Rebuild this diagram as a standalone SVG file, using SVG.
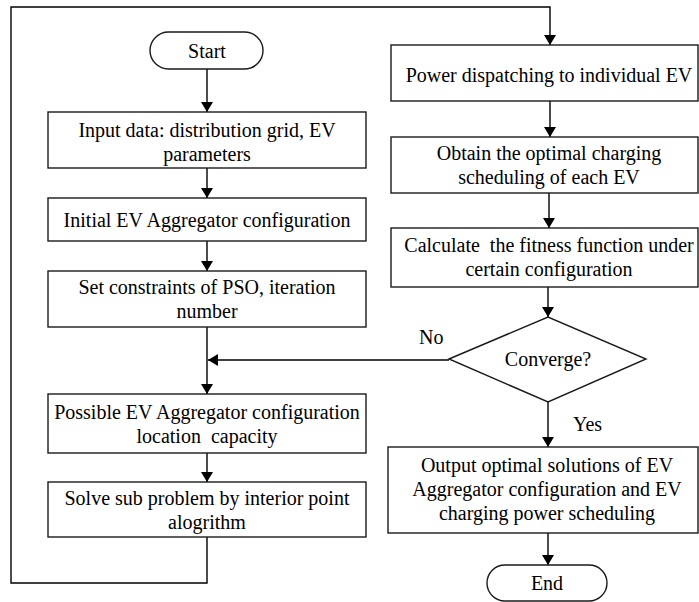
<svg xmlns="http://www.w3.org/2000/svg" width="699" height="602" viewBox="0 0 699 602">
<defs>
<marker id="ah" viewBox="0 0 10 12" refX="10" refY="6" markerWidth="10" markerHeight="12" markerUnits="userSpaceOnUse" orient="auto">
<path d="M0,0 L10,6 L0,12 Z" fill="#000"/>
</marker>
<style>
.b{fill:#fff;stroke:#1a1a1a;stroke-width:1.4}
.t{font-family:"Liberation Serif","Times New Roman",serif;font-size:20px;fill:#000;text-anchor:middle}
.l{font-family:"Liberation Serif","Times New Roman",serif;font-size:20px;fill:#000}
.c{fill:none;stroke:#000;stroke-width:1.4}
</style>
</defs>
<rect width="699" height="602" fill="#fff"/>
<g id="connectors">
<path class="c" d="M207,69 V112" marker-end="url(#ah)"/>
<path class="c" d="M207,168 V198" marker-end="url(#ah)"/>
<path class="c" d="M207,241 V271" marker-end="url(#ah)"/>
<path class="c" d="M207,327 V394" marker-end="url(#ah)"/>
<path class="c" d="M207,453 V482" marker-end="url(#ah)"/>
<path class="c" d="M207,537 V583 H11 V7 H550 V45" marker-end="url(#ah)"/>
<path class="c" d="M550,101 V137" marker-end="url(#ah)"/>
<path class="c" d="M549,193 V228" marker-end="url(#ah)"/>
<path class="c" d="M548,287 V317" marker-end="url(#ah)"/>
<path class="c" d="M449,360 H208" marker-end="url(#ah)"/>
<path class="c" d="M548,402 V447" marker-end="url(#ah)"/>
<path class="c" d="M548,533 V565" marker-end="url(#ah)"/>
</g>
<g id="start">
<rect class="b" x="150" y="32" width="113" height="37" rx="18.5"/>
<text class="t" x="207" y="58">Start</text>
</g>
<g id="input">
<rect class="b" x="48" y="112" width="318" height="56"/>
<text class="t" x="207" y="137">Input data: distribution grid, EV</text>
<text class="t" x="207" y="161">parameters</text>
</g>
<g id="initial">
<rect class="b" x="48" y="198" width="318" height="43"/>
<text class="t" x="207" y="227">Initial EV Aggregator configuration</text>
</g>
<g id="constraints">
<rect class="b" x="48" y="271" width="318" height="56"/>
<text class="t" x="207" y="294">Set constraints of PSO, iteration</text>
<text class="t" x="207" y="318">number</text>
</g>
<g id="possible">
<rect class="b" x="48" y="394" width="318" height="59"/>
<text class="t" x="207" y="419">Possible EV Aggregator configuration</text>
<text class="t" x="207" y="443" xml:space="preserve">location  capacity</text>
</g>
<g id="solve">
<rect class="b" x="48" y="482" width="318" height="55"/>
<text class="t" x="207" y="505">Solve sub problem by interior point</text>
<text class="t" x="207" y="529">alogrithm</text>
</g>
<g id="power">
<rect class="b" x="391" y="45" width="307" height="56"/>
<text class="t" x="549" y="82">Power dispatching to individual EV</text>
</g>
<g id="obtain">
<rect class="b" x="391" y="137" width="307" height="56"/>
<text class="t" x="549" y="160">Obtain the optimal charging</text>
<text class="t" x="549" y="184">scheduling of each EV</text>
</g>
<g id="calculate">
<rect class="b" x="391" y="228" width="307" height="59"/>
<text class="t" x="549" y="252" xml:space="preserve">Calculate  the fitness function under</text>
<text class="t" x="549" y="276">certain configuration</text>
</g>
<g id="converge">
<polygon class="b" points="449,359 548,317 646,359 548,402"/>
<text class="t" x="548" y="366">Converge?</text>
</g>
<g id="labels">
<text class="l" x="419" y="344">No</text>
<text class="l" x="573" y="431">Yes</text>
</g>
<g id="output">
<rect class="b" x="388" y="447" width="310" height="86"/>
<text class="t" x="547" y="472">Output optimal solutions of EV</text>
<text class="t" x="547" y="496">Aggregator configuration and EV</text>
<text class="t" x="547" y="520">charging power scheduling</text>
</g>
<g id="end">
<rect class="b" x="487" y="565" width="120" height="36" rx="18"/>
<text class="t" x="547" y="590">End</text>
</g>
</svg>
